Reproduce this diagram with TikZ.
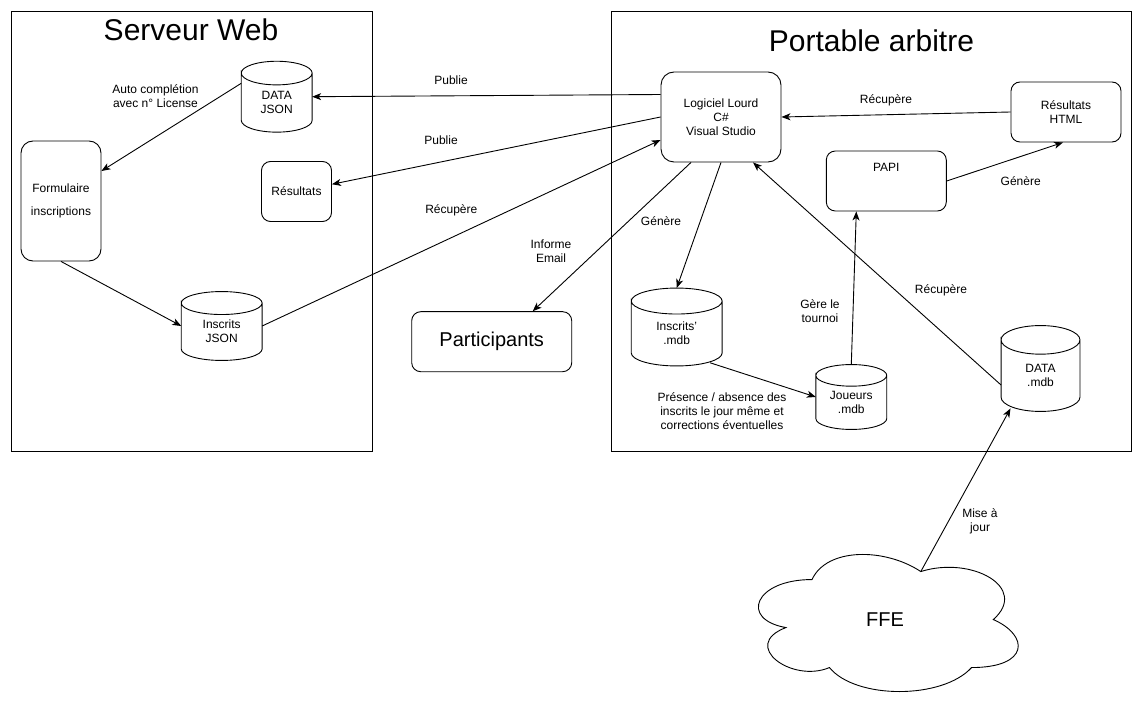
\documentclass[tikz,border=0pt]{standalone}
\usepackage{fontspec}
\setmainfont{Liberation Sans}
\usetikzlibrary{arrows.meta,calc}

\tikzset{
  lbl/.style={font=\fontsize{12}{14}\selectfont, align=center, inner sep=1pt},
  box/.style={draw, rounded corners=9pt, align=center, inner sep=0pt, font=\fontsize{12}{14}\selectfont},
  frame/.style={draw, inner sep=0pt},
  db/.style n args={3}{minimum width=#1, minimum height=#2, inner sep=0pt,
    label={[lbl, yshift=-#2/12]center:#3}},
  title/.style={font=\fontsize{30}{36}\selectfont},
  big/.style={font=\fontsize{20}{24}\selectfont},
  arrow/.style={-{Stealth[length=9pt, width=7pt, inset=2.5pt]}}
}

\begin{document}
\begin{tikzpicture}[x=1pt, y=-1pt, line width=0.9pt]
  \useasboundingbox (0,0) rectangle (1144,714);

  % the two machines
  \node[frame, minimum width=361pt, minimum height=440pt] (webbox) at (191.5,231) {};
  \node[frame, minimum width=520pt, minimum height=440pt] (portbox) at (871,231) {};
  \node[title] (titleweb) at (191,29.5) {Serveur Web};
  \node[title] (titleport) at (871.5,40.5) {Portable arbitre};

  % Serveur Web
  \node[db={70pt}{70pt}{DATA\\JSON}] (datajson) at (276.7,96.7) {};
  \node[box, rounded corners=12pt, minimum width=80pt, minimum height=120pt] (formulaire) at (61,201) {Formulaire\\[9.6pt]inscriptions};
  \node[box, minimum width=70pt, minimum height=60pt] (resweb) at (296.5,191.5) {Résultats};
  \node[db={80pt}{68pt}{Inscrits\\JSON}] (inscritsjson) at (221.7,326) {};

  \node[box, big, minimum width=160pt, minimum height=60pt] (participants) at (491.7,341.7) {Participants};

  % Portable arbitre
  \node[box, rounded corners=13pt, minimum width=120pt, minimum height=90pt] (logiciel) at (721,117) {Logiciel Lourd\\C\#\\Visual Studio};
  \node[box, minimum width=110pt, minimum height=60pt] (html) at (1066,112) {Résultats\\HTML};
  \node[box, minimum width=120pt, minimum height=60pt, text height=9pt, text depth=28.4pt] (papi) at (886.3,181) {PAPI};
  \node[db={90pt}{77pt}{Inscrits'\\.mdb}] (inscritsmdb) at (676.7,327) {};
  \node[db={70pt}{64pt}{Joueurs\\.mdb}] (joueurs) at (851.3,397) {};
  \node[db={78pt}{85pt}{DATA\\.mdb}] (datamdb) at (1040.5,368.5) {};

  \node[big, minimum width=290pt, minimum height=160pt] (ffe) at (885,620) {FFE};

  % cylinders
  \foreach \db in {datajson,inscritsjson,inscritsmdb,joueurs,datamdb}
    \draw let \p1=(\db.north west), \p2=(\db.south east),
      \n1={(\x2-\x1)/2}, \n2={(\y1-\y2)/6} in
      (\x1,\y1-\n2) arc[start angle=180, end angle=-180, x radius=\n1, y radius=\n2]
      -- (\x1,\y2+\n2) arc[start angle=180, end angle=360, x radius=\n1, y radius=\n2]
      -- (\x2,\y1-\n2);

  % cloud
  \begin{scope}[shift={(ffe.north west)}, x=290pt, y=-160pt]
    \draw (0.25,0.25) .. controls (0.05,0.25) and (0,0.5) .. (0.16,0.55)
      .. controls (0,0.66) and (0.18,0.9) .. (0.31,0.8)
      .. controls (0.4,1) and (0.7,1) .. (0.8,0.8)
      .. controls (1,0.8) and (1,0.6) .. (0.875,0.5)
      .. controls (1,0.3) and (0.8,0.1) .. (0.625,0.2)
      .. controls (0.5,0.05) and (0.3,0.05) .. (0.25,0.25) -- cycle;
    \coordinate (ffetop) at (0.625,0.2);
  \end{scope}

  % connectors
  \draw[arrow] ([yshift=22.5pt]logiciel.west) -- (datajson.east);
  \draw[arrow] (logiciel.west) -- (resweb);
  \draw[arrow] (inscritsjson.east) -- ([yshift=-23pt]logiciel.west);
  \draw[arrow] ([yshift=13.4pt]datajson.west) -- ([yshift=30pt]formulaire.east);
  \draw[arrow] (formulaire.south) -- (inscritsjson.west);
  \draw[arrow] ([xshift=-30pt]logiciel.south) -- ([xshift=41pt]participants.north);
  \draw[arrow] (logiciel.south) -- (inscritsmdb.north);
  \draw[arrow] (html.west) -- (logiciel.east);
  \draw[arrow] (papi.east) -- ([xshift=-3pt]html.south);
  \draw[arrow] (joueurs.north) -- ([xshift=-30pt]papi.south);
  \draw[arrow] ([xshift=33.3pt,yshift=3.2pt]inscritsmdb.south) -- (joueurs.west);
  \draw[arrow] ([yshift=-16.5pt]datamdb.west) -- ([xshift=32pt]logiciel.south);
  \draw[arrow] (ffetop) -- ([xshift=-30pt,yshift=3pt]datamdb.south);

  % labels
  \node[lbl] (publie1) at (451,80.7) {Publie};
  \node[lbl] (publie2) at (441,140.7) {Publie};
  \node[lbl] (recup1) at (451.3,210.7) {Récupère};
  \node[lbl] (informe) at (551,251) {Informe\\Email};
  \node[lbl] (auto) at (155.5,96) {Auto complétion\\avec n° License};
  \node[lbl] (genere1) at (661,221) {Génère};
  \node[lbl] (recup2) at (886,100.7) {Récupère};
  \node[lbl] (genere2) at (1020.7,180.7) {Génère};
  \node[lbl] (gere) at (820,311) {Gère le\\tournoi};
  \node[lbl] (presence) at (722,410.7) {Présence / absence des\\inscrits le jour même et\\corrections éventuelles};
  \node[lbl] (recup3) at (941,290.5) {Récupère};
  \node[lbl] (maj) at (980,521) {Mise à\\jour};
\end{tikzpicture}
\end{document}
